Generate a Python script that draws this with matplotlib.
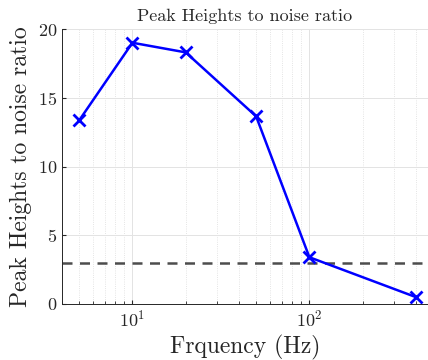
import numpy as np
import matplotlib
matplotlib.use("Agg")
import matplotlib.pyplot as plt

plt.rcParams['font.family'] = 'cmr10'
plt.rcParams['mathtext.fontset'] = 'cm'
plt.rcParams['axes.formatter.use_mathtext'] = True

# data
freq = [5, 10, 20, 50, 100, 400]
ratio = [13.35, 19.0, 18.3, 13.65, 3.4, 0.5]
threshold = 3.0

fig = plt.figure(figsize=(4.28, 3.6), dpi=100)
ax = fig.add_axes([62/428, 56/360, 1 - 62/428, 275/360])

ax.axhline(threshold, color='#4d4d4d', lw=1.8, ls=(0, (4, 3)))
ax.plot(freq, ratio, color='#0000ff', lw=1.8, marker='x', ms=8, mew=2)

ax.set_xscale('log')
ax.set_xlim(4, 468)
ax.set_ylim(0, 20)
ax.set_yticks([0, 5, 10, 15, 20])

ax.grid(True, which='major', color='#e3e3e3', lw=0.7)
ax.grid(True, which='minor', color='#dcdcdc', lw=0.6, ls=':')
ax.set_axisbelow(True)

for s in ['top', 'right']:
    ax.spines[s].set_visible(False)
for s in ['left', 'bottom']:
    ax.spines[s].set_color('#262626')
    ax.spines[s].set_linewidth(0.7)

ax.tick_params(which='both', direction='in', colors='#262626', labelsize=13)
ax.tick_params(which='major', length=3)
ax.tick_params(which='minor', length=2)
for lab in ax.get_xticklabels() + ax.get_yticklabels():
    lab.set_color('#262626')

ax.set_title("Peak Heights to noise ratio", fontsize=13, color='#262626')
ax.set_xlabel("Frquency (Hz)", fontsize=17, color='#262626')
ax.set_ylabel("Peak Heights to noise ratio", fontsize=17, color='#262626')

fig.savefig("out.png", dpi=100)
